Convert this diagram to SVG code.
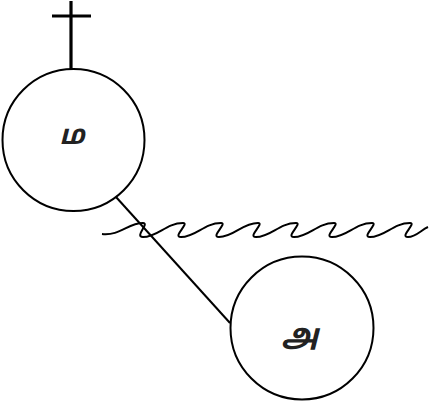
<svg xmlns="http://www.w3.org/2000/svg" width="430" height="406" viewBox="0 0 430 406">
<style>
.node{fill:#fff;stroke:#000;stroke-width:2}
.lbl{font-family:"Noto Sans Tamil","Noto Sans","DejaVu Sans",sans-serif;font-style:italic;font-weight:bold;text-anchor:middle;fill:#222}
.edge{fill:none;stroke:#000;stroke-width:2}
</style>
<rect width="430" height="406" fill="#fff"/>
<g id="connectors">
<line class="edge" x1="116" y1="197" x2="230" y2="323"/>
<path class="edge" d="M102,234 C120,236 128,223 143,223 C150,223 134,237 143,237 C158,237 166,223 183,223 C190,223 172,237 181,237 C196,237 204,223 221,223 C228,223 210,237 219,237 C234,237 242,223 258,223 C265,223 247,237 256,237 C271,237 279,223 296,223 C303,223 285,237 294,237 C309,237 317,223 334,223 C341,223 323,237 332,237 C347,237 355,223 372,223 C379,223 361,237 370,237 C385,237 393,223 410,223 C417,223 399,237 408,237 C416,237 421,230 428,227"/>
</g>
<g id="cross">
<line x1="71" y1="1" x2="71" y2="69" stroke="#000" stroke-width="3.2"/>
<line x1="52" y1="16" x2="91" y2="16" stroke="#000" stroke-width="2.8"/>
</g>
<g id="node-ma">
<circle class="node" cx="73.5" cy="140" r="71"/>
<text class="lbl" x="72" y="144" font-size="27">ம</text>
</g>
<g id="node-a">
<circle class="node" cx="302" cy="328" r="71.5"/>
<text class="lbl" x="300" y="345" font-size="30">அ</text>
</g>
</svg>
